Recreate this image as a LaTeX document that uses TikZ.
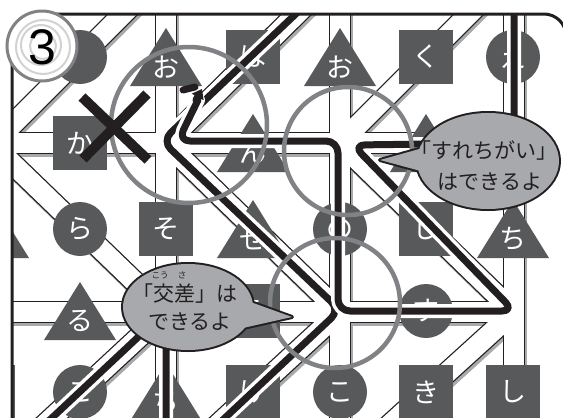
\documentclass[tikz,border=0pt]{standalone}
\usepackage{fontspec}
\newfontfamily\jp{Noto Sans CJK JP}
\newfontfamily\hv{Liberation Sans}
\usetikzlibrary{arrows.meta}
\definecolor{nodegray}{HTML}{58595B}
\definecolor{ringgray}{HTML}{808285}
\definecolor{shadowgray}{HTML}{A7A9AC}
\definecolor{bubblegray}{HTML}{A7A9AC}
\definecolor{inkblack}{HTML}{231F20}
\newcommand\hirafont{\jp\fontsize{27}{27}\selectfont}
\newcommand\trinode[4]{%
  \fill[nodegray] (#2-36,#3+29) -- (#2,#3-29) -- (#2+36,#3+29) -- cycle;
  \node[lbl] (#1) at (#2,#3+10) {#4};}
\def\roadlist{166/-10/166/430, 340/-10/340/430, 514/-10/514/430,
  -10/143/514/143, -10/312/514/312,
  -10/147/180/-43, 166/143/321/-10, 166/143/340/312, 340/312/212/430,
  -10/142/166/312, 166/312/39/430, 340/143/493/-10, 340/143/514/312,
  514/312/384/430}
\tikzset{
  sq/.style={rectangle, fill=nodegray, minimum size=54pt, inner sep=0pt, text=white, font=\hirafont},
  cc/.style={circle, fill=nodegray, minimum size=54pt, inner sep=0pt, text=white, font=\hirafont},
  lbl/.style={inner sep=0pt, text=white, font=\hirafont},
  roadshadow/.style={draw=shadowgray, line width=23pt},
  roadedge/.style={draw=inkblack, line width=22.5pt},
  roadfill/.style={draw=white, line width=20pt},
  pathcase/.style={draw=white, line width=14pt, rounded corners=12pt, line cap=round, line join=round},
  pathcore/.style={draw=inkblack, line width=7pt, rounded corners=12pt, line cap=round, line join=round},
  ring/.style={draw=ringgray, line width=4.5pt},
  btext/.style={inner sep=0pt, text=inkblack, font=\jp\fontsize{21}{21}\selectfont},
  rtext/.style={inner sep=0pt, text=inkblack, font=\jp\fontsize{8.5}{8.5}\selectfont},
}
\newcommand\solpath[1]{\draw[pathcase] #1; \draw[pathcore] #1;}
\begin{document}
\begin{tikzpicture}[x=1pt,y=-1pt]
\useasboundingbox (0,0) rectangle (563,418);
\fill[white] (0,0) rectangle (563,418);
\begin{scope}
\clip[rounded corners=22pt] (12,440) -- (12,14) -- (566,14) -- (566,440) -- cycle;
% roads
\foreach \a/\b/\c/\d in \roadlist {\draw[roadshadow] (\a+1.8,\b+2.4) -- (\c+1.8,\d+2.4);}
\foreach \a/\b/\c/\d in \roadlist {\draw[roadedge] (\a,\b) -- (\c,\d);}
\foreach \a/\b/\c/\d in \roadlist {\draw[roadfill] (\a,\b) -- (\c,\d);}
% row 1
\node[cc] (n00) at (80,57) {};
\trinode{n10}{166}{57}{お}
\node[sq] (n20) at (253,57) {は};
\trinode{n30}{340}{57}{お}
\node[sq] (n40) at (426,57) {く};
\node[cc] (n50) at (513,57) {え};
% row 2
\node[sq] (n01) at (80,143) {か};
\trinode{n21}{253}{143}{ん}
\trinode{n41}{426}{143}{}
% row 3
\trinode{nm2}{-7}{229}{}
\node[cc] (n02) at (80,229) {ら};
\node[sq] (n12) at (166,229) {そ};
\trinode{n22}{253}{229}{せ}
\node[cc] (n32) at (340,229) {の};
\node[sq] (n42) at (426,229) {し};
\trinode{n52}{513}{229}{ち}
% row 4
\trinode{n03}{80}{311}{る}
\node[sq] (n23) at (253,311) {う};
\node[cc] (n43) at (426,311) {す};
% row 5
\node[sq] (nm4) at (-12,392) {};
\node[cc] (n04) at (80,392) {こ};
\trinode{n14}{166}{392}{ち}
\node[sq] (n24) at (253,392) {け};
\node[cc] (n34) at (340,392) {こ};
\node[sq] (n44) at (426,392) {き};
\node[sq] (n54) at (513,392) {し};
% solution paths
\solpath{(321,-10) -- (162,141) -- (340,310) -- (212,430)}
\solpath{(198,100) -- (178,141) -- (338,141) -- (338,311) -- (514,311) -- (353,145) -- (514,143) -- (514,-10)}
\solpath{(166,430) -- (166,311) -- (39,430)}
\draw[pathcore] (183,90) -- (195,87);
\draw[pathcore, rounded corners=0pt, -{Triangle[length=9pt,width=13pt]}] (196,100) -- (202,89);
\end{scope}
% frame
\draw[inkblack, line width=3pt, rounded corners=22pt] (12,440) -- (12,14) -- (566,14) -- (566,440);
% gray circles
\draw[ring] (189,125) circle[radius=78];
\draw[ring] (348,151) circle[radius=64];
\draw[ring] (335,303) circle[radius=65];
% cross mark
\draw[inkblack, line width=10pt] (82,97) -- (148,160);
\draw[inkblack, line width=10pt] (147,94) -- (83,159);
% bubble 1
\draw[inkblack, line width=4pt] (488,161) ellipse[x radius=71, y radius=48];
\draw[inkblack, line width=4pt, line join=round] (430,146) -- (380,160) -- (428,173) -- cycle;
\fill[bubblegray] (488,161) ellipse[x radius=71, y radius=48];
\fill[bubblegray] (430,146) -- (380,160) -- (428,173) -- cycle;
\node[btext] (b1a) at (484,151) {「すれちがい」};
\node[btext] (b1b) at (490,182) {はできるよ};
% bubble 2
\draw[inkblack, line width=4pt] (188,307) ellipse[x radius=65, y radius=43];
\draw[inkblack, line width=4pt, line join=round] (245,300) -- (292,317) -- (243,328) -- cycle;
\fill[bubblegray] (188,307) ellipse[x radius=65, y radius=43];
\fill[bubblegray] (245,300) -- (292,317) -- (243,328) -- cycle;
\node[btext] (b2a) at (185,294) {「交差」は};
\node[rtext] (r1) at (160,275) {こう};
\node[rtext] (r2) at (182,275) {さ};
\node[btext] (b2b) at (190,322) {できるよ};
% badge
\fill[white] (42,46) circle[radius=35];
\draw[gray!35, line width=2pt] (43,47) circle[radius=27];
\draw[gray!35, line width=2pt] (41,45) circle[radius=20];
\draw[gray!35, line width=2pt] (43,46) circle[radius=13];
\draw[ringgray, line width=3pt] (42,46) circle[radius=35];
\node[inner sep=0pt, font=\hv\fontsize{50}{50}\selectfont] (three) at (42,47) {3};
\end{tikzpicture}
\end{document}
